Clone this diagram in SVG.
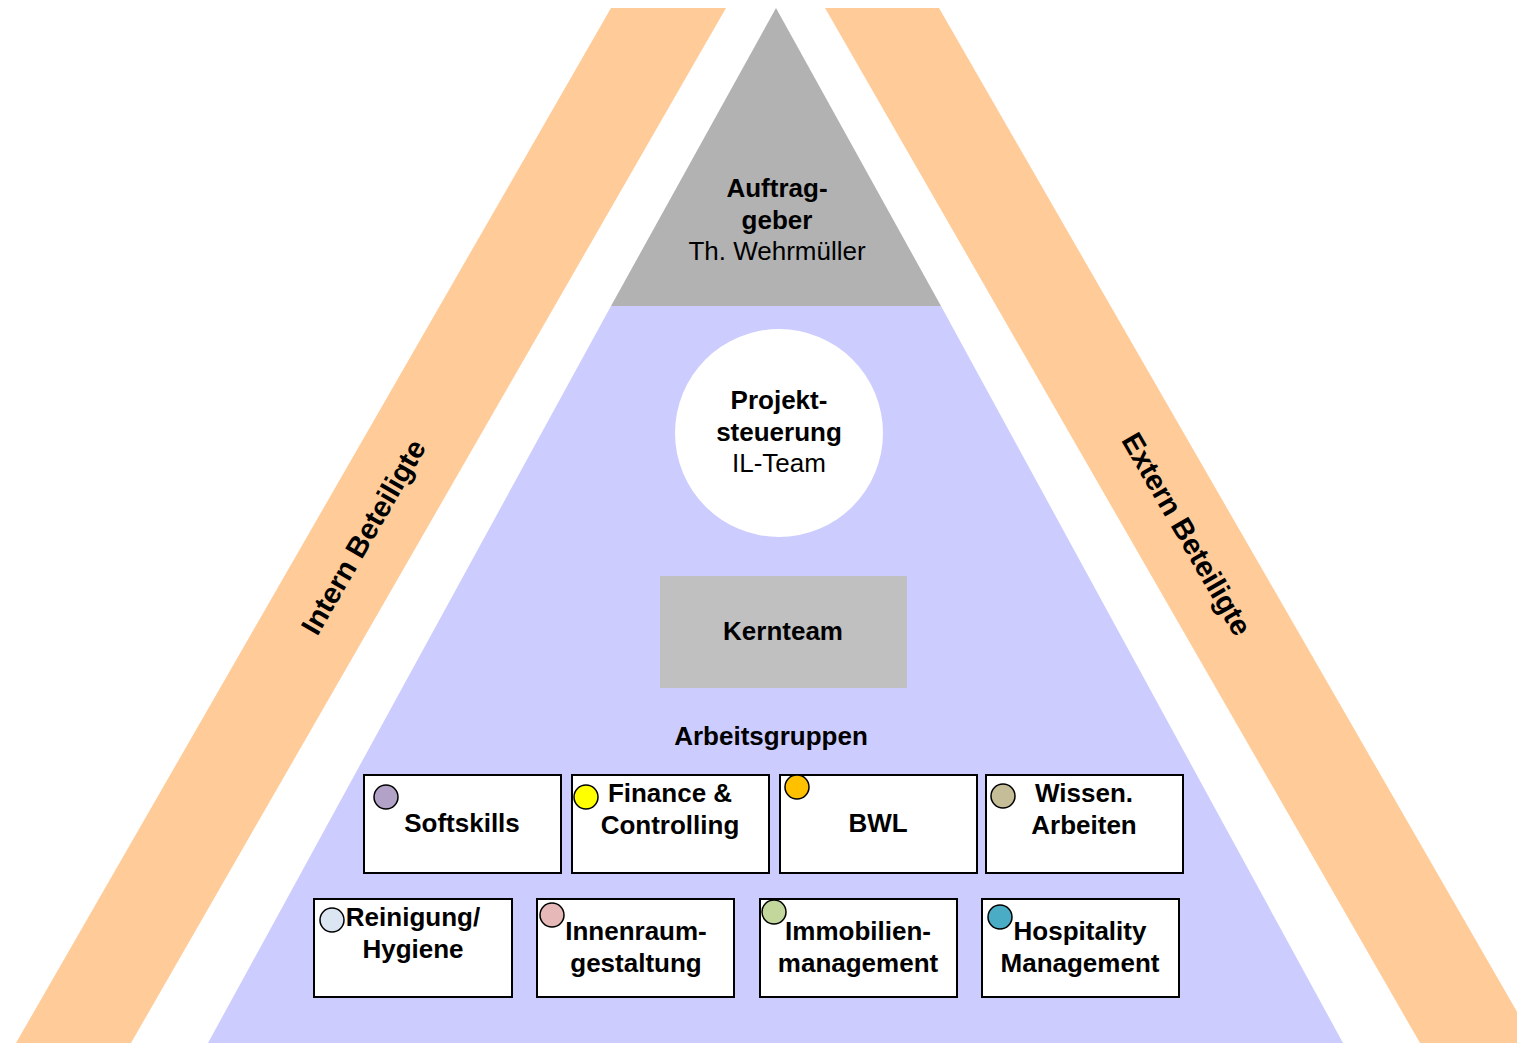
<svg xmlns="http://www.w3.org/2000/svg" width="1517" height="1043" viewBox="0 0 1517 1043">
<style>
text{font-family:"Liberation Sans",Arial,sans-serif;font-size:26px;fill:#000;text-anchor:middle}
.b{font-weight:bold}
.band{fill:#FFCC99}
.rot{font-size:29px}
.box{fill:#fff;stroke:#000;stroke-width:2}
.dot{stroke:#000;stroke-width:1.5}
</style>
<rect width="1517" height="1043" fill="#fff"/>
<g id="intern">
<polygon class="band" points="611,8 726,8 131,1043 16,1043"/>
<text class="b rot" transform="translate(372,542) rotate(-60)">Intern Beteiligte</text>
</g>
<g id="extern">
<polygon class="band" points="825,8 939,8 1535,1043 1420,1043"/>
<text class="b rot" transform="translate(1178,539) rotate(60)">Extern Beteiligte</text>
</g>
<g id="basis">
<polygon points="611,306 941,306 1343,1043 208,1043" fill="#CCCCFF"/>
</g>
<g id="auftraggeber">
<polygon points="776,8 941,306 611,306" fill="#B2B2B2"/>
<text class="b" x="777" y="197">Auftrag-</text>
<text class="b" x="777" y="229">geber</text>
<text x="777" y="260">Th. Wehrmüller</text>
</g>
<g id="projektsteuerung">
<circle cx="779" cy="433" r="104" fill="#fff"/>
<text class="b" x="779" y="409">Projekt-</text>
<text class="b" x="779" y="441">steuerung</text>
<text x="779" y="472">IL-Team</text>
</g>
<g id="kernteam">
<rect x="660" y="576" width="247" height="112" fill="#C0C0C0"/>
<text class="b" x="783" y="640">Kernteam</text>
</g>
<g id="arbeitsgruppen">
<text class="b" x="771" y="745">Arbeitsgruppen</text>
</g>
<g id="softskills">
<rect class="box" x="364" y="775" width="197" height="98"/>
<circle class="dot" cx="386" cy="797" r="12" fill="#B3A2C7"/>
<text class="b" x="462" y="832">Softskills</text>
</g>
<g id="finance">
<rect class="box" x="572" y="775" width="197" height="98"/>
<circle class="dot" cx="586" cy="797" r="12" fill="#FFFF00"/>
<text class="b" x="670" y="802">Finance &amp;</text>
<text class="b" x="670" y="834">Controlling</text>
</g>
<g id="bwl">
<rect class="box" x="780" y="775" width="197" height="98"/>
<circle class="dot" cx="797" cy="787" r="12" fill="#FFC000"/>
<text class="b" x="878" y="832">BWL</text>
</g>
<g id="wissen">
<rect class="box" x="986" y="775" width="197" height="98"/>
<circle class="dot" cx="1003" cy="796" r="12" fill="#C4BD97"/>
<text class="b" x="1084" y="802">Wissen.</text>
<text class="b" x="1084" y="834">Arbeiten</text>
</g>
<g id="reinigung">
<rect class="box" x="314" y="899" width="198" height="98"/>
<circle class="dot" cx="332" cy="920" r="12" fill="#DCE6F2"/>
<text class="b" x="413" y="926">Reinigung/</text>
<text class="b" x="413" y="958">Hygiene</text>
</g>
<g id="innenraum">
<rect class="box" x="537" y="899" width="197" height="98"/>
<circle class="dot" cx="552" cy="915" r="12" fill="#E6B9B8"/>
<text class="b" x="636" y="940">Innenraum-</text>
<text class="b" x="636" y="972">gestaltung</text>
</g>
<g id="immobilien">
<rect class="box" x="760" y="899" width="197" height="98"/>
<circle class="dot" cx="774" cy="912" r="12" fill="#C3D69B"/>
<text class="b" x="858" y="940">Immobilien-</text>
<text class="b" x="858" y="972">management</text>
</g>
<g id="hospitality">
<rect class="box" x="982" y="899" width="197" height="98"/>
<circle class="dot" cx="1000" cy="917" r="12" fill="#4BACC6"/>
<text class="b" x="1080" y="940">Hospitality</text>
<text class="b" x="1080" y="972">Management</text>
</g>
<g id="connectors"/>
</svg>
